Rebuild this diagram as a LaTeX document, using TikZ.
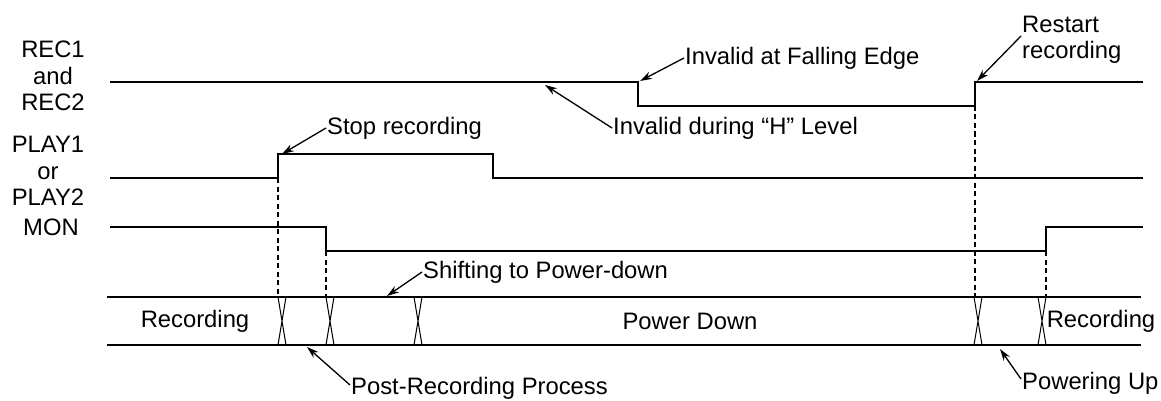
\documentclass[tikz,border=0pt]{standalone}
\usepackage{fontspec}
\setmainfont{Liberation Sans}
\usetikzlibrary{arrows.meta}
\begin{document}
\begin{tikzpicture}[x=1pt,y=-1pt,
  sig/.style={line width=1.5pt},
  busline/.style={line width=1.7pt},
  xing/.style={line width=1pt},
  guide/.style={line width=1.3pt, dash pattern=on 5pt off 3.5pt},
  lbl/.style={font=\fontsize{23.8}{26.5}\selectfont, inner sep=1pt},
  note/.style={lbl, anchor=west},
  pointer/.style={line width=1.3pt, -{Stealth[length=12pt,width=7.5pt]}}]
\useasboundingbox (0,0) rectangle (1161,401);

% signal names
\node[lbl, align=center] (rec) at (53,76) {REC1\\and\\REC2};
\node[lbl, align=center] (play) at (48,171) {PLAY1\\or\\PLAY2};
\node[lbl] (mon) at (51,227) {MON};

% waveforms
\draw[sig] (110,82) -- (638,82) -- (638,106) -- (975,106) -- (975,82) -- (1143,82);
\draw[sig] (110,178) -- (278,178) -- (278,154) -- (493,154) -- (493,178) -- (1143,178);
\draw[sig] (110,227) -- (326,227) -- (326,251) -- (1046,251) -- (1046,227) -- (1143,227);

% state bus
\draw[busline] (107,297) -- (1141,297);
\draw[busline] (107,345) -- (1141,345);
\foreach \x in {282,330,418,978,1042}
  \draw[xing] (\x-4,297) -- (\x+4,345) (\x+4,297) -- (\x-4,345);

% dashed guides
\draw[guide] (278,178) -- (278,297);
\draw[guide] (326,251) -- (326,297);
\draw[guide] (975,106) -- (975,297);
\draw[guide] (1046,251) -- (1046,297);

% bus states
\node[lbl] (s1) at (195,321) {Recording};
\node[lbl] (s2) at (690,321) {Power Down};
\node[lbl] (s3) at (1101,321) {Recording};

% annotation targets
\coordinate (tstop) at (282,154);
\coordinate (tfall) at (640,81);
\coordinate (thlev) at (545,85);
\coordinate (trest) at (977,81);
\coordinate (tshift) at (387,296);
\coordinate (tpost) at (307,347);
\coordinate (tpwr) at (1000,349);

% annotations
\node[note] (stop) at (326,128) {Stop recording};
\node[note] (fall) at (684,58) {Invalid at Falling Edge};
\node[note] (hlev) at (612,128) {Invalid during “H” Level};
\node[note, align=left] (rest) at (1021,40) {Restart\\recording};
\node[note] (shift) at (422,272) {Shifting to Power-down};
\node[note] (post) at (350,388) {Post-Recording Process};
\node[note] (pwr) at (1021,383) {Powering Up};

\draw[pointer] (stop.west) -- (tstop);
\draw[pointer] (fall.west) -- (tfall);
\draw[pointer] (hlev.west) -- (thlev);
\draw[pointer] ([yshift=4pt]rest.west) -- (trest);
\draw[pointer] (shift.west) -- (tshift);
\draw[pointer] ([yshift=3pt]post.west) -- (tpost);
\draw[pointer] ([yshift=4pt]pwr.west) -- (tpwr);
\end{tikzpicture}
\end{document}
